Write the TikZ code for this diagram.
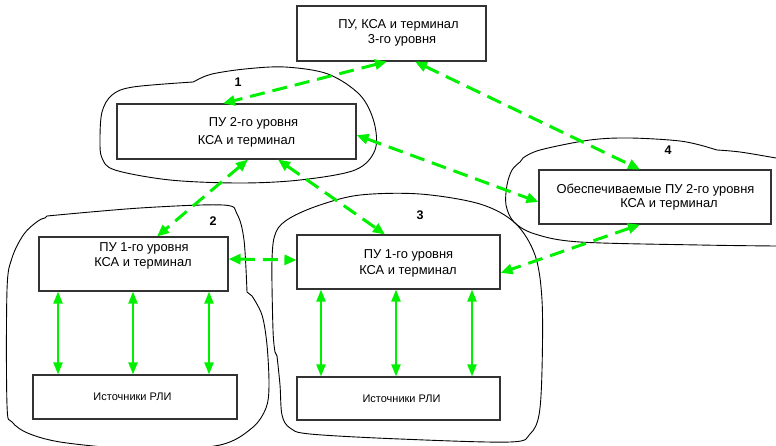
\documentclass[tikz,border=0pt]{standalone}
\usepackage{fontspec}
\setmainfont{Liberation Sans}
\usetikzlibrary{arrows.meta}

\definecolor{linkgreen}{RGB}{0,240,0}

\tikzset{
  unit/.style={draw=black!80, line width=1.1pt, inner sep=0pt, fill=white},
  txt/.style={inner sep=0pt, text height=0.72em, text depth=0pt,
              font=\fontsize{12.9}{15}\selectfont},
  srctxt/.style={txt, font=\fontsize{11}{13}\selectfont},
  numtxt/.style={inner sep=0pt, text height=0.72em, text depth=0pt,
                 font=\fontsize{12.5}{15}\selectfont\bfseries},
  zone/.style={draw=black, line width=0.9pt},
  link/.style={draw=linkgreen, line width=3pt, dash pattern=on 15pt off 8pt,
               {Triangle[length=12pt,width=10pt]}-{Triangle[length=12pt,width=10pt]}},
  feed/.style={draw=linkgreen, line width=2pt,
               {Triangle[length=12pt,width=9pt]}-{Triangle[length=12pt,width=9pt]}}
}

\begin{document}
\begin{tikzpicture}[x=1pt,y=-1pt]
\useasboundingbox (0,0) rectangle (776,445);
\clip (0,0) rectangle (776,445);

% zone outlines
\draw[zone] plot[smooth, tension=0.55] coordinates {(197,80) (212,74) (245,69) (285,67) (328,74) (360,95) (374,122) (375,150) (355,170) (300,180) (240,183) (170,180) (115,170) (102,158) (100,140) (102,112) (112,95) (133,87) (193,82)} -- cycle;

\draw[zone] plot[smooth, tension=0.55] coordinates {(47,216) (140,208) (223,205) (237,214) (244,240) (247,292)}
  -- plot[smooth, tension=0.55] coordinates {(252,296) (262,315) (267,345) (269,385) (266,408) (252,428) (220,445) (150,450) (67,443) (30,434) (12,422) (7,405) (7,290) (12,258) (24,234) (38,221) (45,218)} -- cycle;

\draw[zone] plot[smooth, tension=0.55] coordinates {(277,356) (280,385) (282,415) (290,428) (310,434) (400,439) (510,442) (530,434) (539,415) (542,370) (542,300) (535,255) (515,223) (480,204) (420,194) (360,195) (320,205) (290,218) (276,232) (272,260) (273,330) (275,352)} -- cycle;

\draw[zone] plot[smooth, tension=0.55] coordinates {(523,158) (540,150) (590,140) (630,138) (680,141) (707,147)}
  -- plot[smooth, tension=0.55] coordinates {(717,150) (740,152) (776,158) (820,166)}
  -- (900,166) -- (900,250) -- (820,248)
  -- plot[smooth, tension=0.55] coordinates {(776,246) (700,245) (580,242) (535,234) (514,222) (506,205) (507,185) (512,170) (520,162)} -- cycle;

% zone numbers
\node[numtxt] (n1) at (238,83) {1};
\node[numtxt] (n2) at (213,222) {2};
\node[numtxt] (n3) at (420,216) {3};
\node[numtxt] (n4) at (668,151) {4};

% units
\node[unit, minimum width=189pt, minimum height=55pt] (top) at (391.5,33.5) {};
\node[txt] (topa) at (398.5,25) {ПУ, КСА и терминал};
\node[txt] (topb) at (402,40) {3-го уровня};

\node[unit, minimum width=239pt, minimum height=55pt] (b1) at (236.5,131.5) {};
\node[txt] (b1a) at (253.5,123) {ПУ 2-го уровня};
\node[txt] (b1b) at (246.5,141) {КСА и терминал};

\node[unit, minimum width=232pt, minimum height=54pt] (b4) at (655,197) {};
\node[txt] (b4a) at (655.5,190) {Обеспечиваемые ПУ 2-го уровня};
\node[txt] (b4b) at (669,204) {КСА и терминал};

\node[unit, minimum width=189pt, minimum height=54pt] (b2) at (133.5,264) {};
\node[txt] (b2a) at (144,248) {ПУ 1-го уровня};
\node[txt] (b2b) at (143,263) {КСА и терминал};

\node[unit, minimum width=203pt, minimum height=54pt] (b3) at (398.5,262) {};
\node[txt] (b3a) at (408.5,255) {ПУ 1-го уровня};
\node[txt] (b3b) at (408,271) {КСА и терминал};

\node[unit, minimum width=204pt, minimum height=44pt] (s2) at (135,397) {};
\node[srctxt] (s2t) at (132.5,397) {Источники РЛИ};

\node[unit, minimum width=203pt, minimum height=43pt] (s3) at (398.5,398.5) {};
\node[srctxt] (s3t) at (401.5,399) {Источники РЛИ};

% links between units
\draw[link] ([xshift=-4.5pt]top.south) -- ([xshift=-13.5pt]b1.north);
\draw[link] ([xshift=23.5pt]top.south) -- ([xshift=-15pt]b4.north);
\draw[link] ([yshift=-3.5pt]b1.east) -- ([yshift=-5pt]b4.west);
\draw[link] ([xshift=11.5pt]b1.south) -- ([xshift=23.5pt]b2.north);
\draw[link] ([xshift=41.5pt]b1.south) -- ([xshift=-13.5pt]b3.north);
\draw[link] ([yshift=5pt]b2.east) -- ([yshift=2pt]b3.west);
\draw[link] ([xshift=-15pt]b4.south) -- ([yshift=-11pt]b3.east);

% feeds from sources
\foreach \dx in {-75.5,-0.5,75.5}
  \draw[feed] ([xshift=\dx pt]b2.south) -- ([xshift=\dx pt]b2.south |- s2.north);
\foreach \dx in {-77.5,-2.5,73.5}
  \draw[feed] ([xshift=\dx pt]b3.south) -- ([xshift=\dx pt]b3.south |- s3.north);

\end{tikzpicture}
\end{document}
